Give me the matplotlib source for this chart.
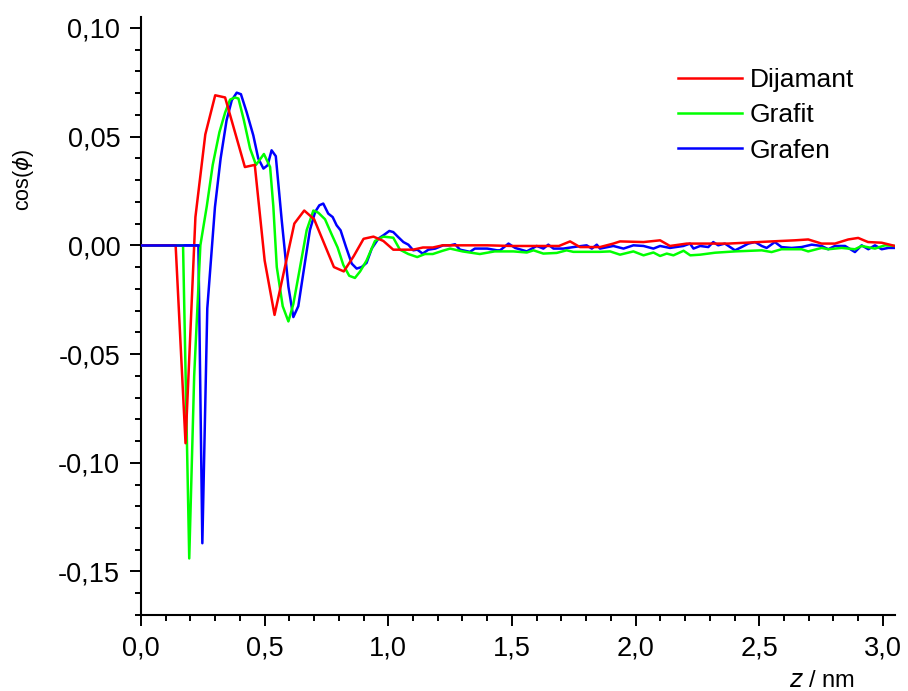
import matplotlib
matplotlib.use('Agg')
import matplotlib.pyplot as plt
from matplotlib.ticker import MultipleLocator, FuncFormatter

# Dijamant
dij_z = [0.00, 0.14, 0.18, 0.22, 0.26, 0.30, 0.34, 0.38, 0.42, 0.46, 0.50, 0.54, 0.58,
         0.62, 0.66, 0.70, 0.74, 0.78, 0.82, 0.86, 0.90, 0.94, 0.98, 1.02, 1.06, 1.10,
         1.14, 1.18, 1.22, 1.30, 1.40, 1.50, 1.60, 1.69, 1.735, 1.775, 1.856, 1.91,
         1.937, 2.032, 2.099, 2.139, 2.207, 2.261, 2.375, 2.55, 2.644, 2.698, 2.752,
         2.806, 2.86, 2.90, 2.94, 2.995, 3.049]
dij_y = [0.0, 0.0, -0.091, 0.013, 0.051, 0.069, 0.068, 0.052, 0.036, 0.037, -0.007, -0.032,
         -0.011, 0.010, 0.016, 0.012, 0.001, -0.010, -0.012, -0.005, 0.003, 0.004, 0.002,
         -0.002, -0.002, -0.002, -0.001, -0.001, 0.0, 0.0, 0.0, -0.0003, -0.0003, -0.0003,
         0.0018, -0.0008, -0.0008, 0.0008, 0.0018, 0.0015, 0.0023, -0.0003, 0.0008, 0.0008,
         0.0008, 0.0018, 0.0023, 0.0027, 0.0008, 0.0008, 0.0027, 0.0034, 0.0015, 0.0012,
         -0.0003]

# Grafit
grafit_z = [0.00, 0.17, 0.195, 0.215, 0.24, 0.266, 0.29, 0.317, 0.34, 0.36, 0.38, 0.394,
            0.416, 0.441, 0.465, 0.497, 0.522, 0.535, 0.549, 0.573, 0.596, 0.616, 0.640,
            0.670, 0.697, 0.717, 0.744, 0.771, 0.795, 0.818, 0.842, 0.865, 0.886, 0.912,
            0.946, 0.98, 1.02, 1.047, 1.081, 1.117, 1.148, 1.18, 1.22, 1.25, 1.30, 1.37,
            1.43, 1.452, 1.506, 1.56, 1.587, 1.627, 1.681, 1.721, 1.748, 1.802, 1.856,
            1.897, 1.937, 1.991, 2.032, 2.072, 2.099, 2.126, 2.153, 2.194, 2.221, 2.261,
            2.321, 2.402, 2.51, 2.55, 2.59, 2.671, 2.698, 2.752, 2.779, 2.833, 2.887,
            2.914, 2.968, 3.008, 3.049]
grafit_y = [0.0, 0.0, -0.144, -0.060, 0.0, 0.018, 0.037, 0.052, 0.061, 0.067, 0.068, 0.0675,
            0.0575, 0.0445, 0.037, 0.042, 0.036, 0.018, -0.010, -0.028, -0.035, -0.027,
            -0.012, 0.007, 0.016, 0.015, 0.012, 0.005, -0.001, -0.009, -0.014, -0.015,
            -0.012, -0.007, 0.002, 0.004, 0.0035, -0.002, -0.004, -0.0054, -0.004, -0.004,
            -0.0025, -0.0015, -0.0028, -0.004, -0.0028, -0.0028, -0.0028, -0.0033, -0.0023,
            -0.0038, -0.0035, -0.0023, -0.003, -0.003, -0.003, -0.0028, -0.0043, -0.0028,
            -0.0046, -0.0033, -0.0049, -0.0038, -0.0046, -0.0025, -0.0046, -0.0043,
            -0.0034, -0.0028, -0.0023, -0.0031, -0.0018, -0.0018, -0.0028, -0.0012,
            -0.0018, -0.0012, -0.0018, -0.0003, -0.0015, 0.0, -0.0003]

# Grafen
grafen_z = [0.00, 0.232, 0.248, 0.268, 0.299, 0.322, 0.346, 0.367, 0.387, 0.404, 0.427,
            0.454, 0.474, 0.495, 0.512, 0.528, 0.545, 0.569, 0.596, 0.616, 0.636, 0.656,
            0.683, 0.704, 0.721, 0.737, 0.757, 0.775, 0.791, 0.807, 0.829, 0.852, 0.872,
            0.892, 0.912, 0.933, 0.960, 0.980, 1.004, 1.020, 1.040, 1.061, 1.081, 1.101,
            1.117, 1.139, 1.162, 1.19, 1.222, 1.25, 1.27, 1.29, 1.33, 1.35, 1.40, 1.44,
            1.452, 1.486, 1.513, 1.56, 1.60, 1.627, 1.647, 1.668, 1.708, 1.749, 1.802,
            1.823, 1.843, 1.856, 1.91, 1.951, 1.991, 2.032, 2.072, 2.099, 2.139, 2.193,
            2.22, 2.234, 2.261, 2.294, 2.314, 2.334, 2.361, 2.402, 2.429, 2.456, 2.483,
            2.51, 2.53, 2.563, 2.59, 2.631, 2.671, 2.712, 2.752, 2.779, 2.806, 2.847,
            2.887, 2.914, 2.941, 2.968, 2.995, 3.022, 3.049]
grafen_y = [0.0, 0.0, -0.137, -0.029, 0.0176, 0.040, 0.0575, 0.0667, 0.0702, 0.0695, 0.0613,
            0.0506, 0.040, 0.0353, 0.0368, 0.0437, 0.041, 0.0115, -0.019, -0.033, -0.028,
            -0.013, 0.007, 0.0153, 0.0184, 0.0192, 0.0146, 0.013, 0.0092, 0.0069, -0.0008,
            -0.0084, -0.0107, -0.010, -0.0081, -0.0015, 0.0031, 0.0046, 0.0066, 0.0061,
            0.0038, 0.0015, 0.0003, -0.0023, -0.002, -0.0038, -0.002, -0.0015, 0.0, 0.0,
            0.0005, -0.002, -0.003, -0.0015, -0.0015, -0.0023, -0.0023, 0.0008, -0.0012,
            -0.0028, -0.0003, -0.0015, 0.0003, -0.0015, -0.0015, -0.0008, 0.0, -0.0015,
            0.0003, -0.0015, -0.0003, -0.0015, 0.0, -0.0003, -0.0015, -0.0003, -0.0012,
            -0.0003, 0.0008, -0.0015, -0.0003, -0.0008, 0.0015, 0.0, 0.0008, -0.0023,
            -0.0008, 0.0008, 0.0015, -0.0003, -0.0012, 0.0015, -0.0008, -0.0012, -0.0008,
            0.0003, -0.0003, -0.0018, -0.0003, -0.0003, -0.0031, 0.0, -0.0018, 0.0,
            -0.0018, -0.0012, -0.0012]

plt.rcParams['font.family'] = ['Liberation Sans', 'DejaVu Sans']
plt.rcParams['mathtext.fontset'] = 'dejavusans'

fig = plt.figure(figsize=(9.08, 6.91), dpi=100)
ax = fig.add_axes([0.1553, 0.110, 0.8304, 0.8654])

ax.plot(grafen_z, grafen_y, color='#0000ff', lw=1.8, label='Grafen', zorder=2)
ax.plot(grafit_z, grafit_y, color='#00ff00', lw=1.8, label='Grafit', zorder=3)
ax.plot(dij_z, dij_y, color='#ff0000', lw=1.8, label='Dijamant', zorder=4)
# blue flat part drawn over the start
ax.plot(grafen_z[:2], grafen_y[:2], color='#0000ff', lw=1.8, zorder=5)

ax.set_xlim(0, 3.049)
ax.set_ylim(-0.170, 0.105)

for s in ['top', 'right']:
    ax.spines[s].set_visible(False)
for s in ['left', 'bottom']:
    ax.spines[s].set_linewidth(1.5)

ax.xaxis.set_major_locator(MultipleLocator(0.5))
ax.xaxis.set_minor_locator(MultipleLocator(0.1))
ax.yaxis.set_major_locator(MultipleLocator(0.05))
ax.yaxis.set_minor_locator(MultipleLocator(0.01))
ax.xaxis.set_major_formatter(FuncFormatter(lambda v, p: ('%.1f' % v).replace('.', ',')))
ax.yaxis.set_major_formatter(FuncFormatter(lambda v, p: ('%.2f' % v).replace('.', ',').replace('-0,00', '0,00')))
ax.tick_params(which='major', length=8, width=1.4, labelsize=19.5, pad=7)
ax.tick_params(which='minor', length=4.5, width=1.4)

handles, labels = ax.get_legend_handles_labels()
order = [2, 1, 0]
ax.legend([handles[i] for i in order], [labels[i] for i in order], loc='upper left',
          bbox_to_anchor=(0.712, 0.915), frameon=False, fontsize=19, handlelength=2.42,
          handletextpad=0.3, labelspacing=0.43, borderpad=0, borderaxespad=0)

fig.text(23 / 908, 1 - 180 / 691, 'cos($\\phi$)', rotation=90, fontsize=15.5,
         ha='center', va='center')
fig.text(822 / 908, 1 - 687 / 691, '$z$ / nm', fontsize=17, ha='center', va='baseline')

fig.savefig('out.png', dpi=100)
